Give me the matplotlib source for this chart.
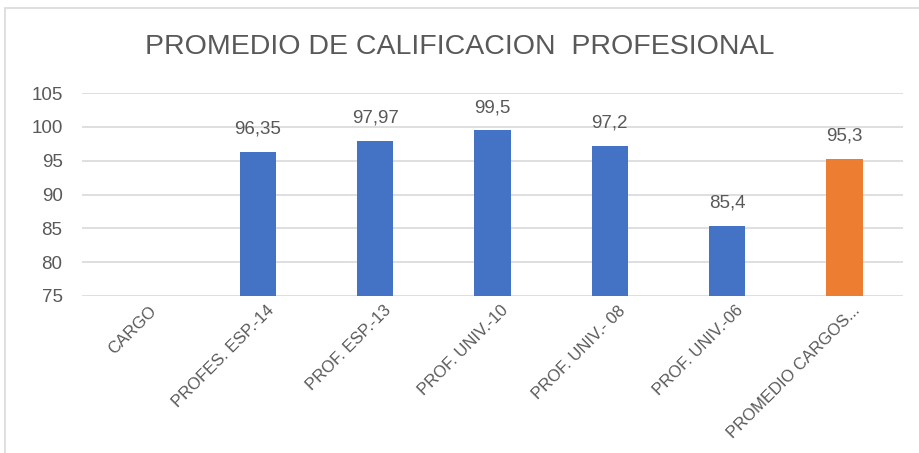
import numpy as np
import matplotlib
matplotlib.use("Agg")
from matplotlib import pyplot as plt
from matplotlib.patches import Rectangle
from matplotlib.transforms import ScaledTranslation

# data
categorias = ["CARGO", "PROFES. ESP.-14", "PROF. ESP.-13", "PROF. UNIV.-10",
              "PROF. UNIV.- 08", "PROF. UNIV.-06", "PROMEDIO CARGOS..."]
valores = [np.nan, 96.35, 97.97, 99.5, 97.2, 85.4, 95.3]
etiquetas = ["", "96,35", "97,97", "99,5", "97,2", "85,4", "95,3"]
colores = ["#4472C4"] * 6 + ["#ED7D31"]
yticks = [75, 80, 85, 90, 95, 100, 105]

plt.rcParams['font.family'] = ['Liberation Sans', 'DejaVu Sans']
gris = "#595959"

fig = plt.figure(figsize=(9.2, 4.53), dpi=100)
fig.patches.append(Rectangle((5/920, -0.1), 1.1, 1 - 8/453 + 0.1, transform=fig.transFigure,
                             fill=False, edgecolor="#d9d9d9", lw=1.2))
ax = fig.add_axes([82/920, 1 - 296/453, (903 - 82)/920, (296 - 93)/453])

x = np.arange(len(categorias))
vals = np.array(valores, dtype=float)
ax.bar(x, np.nan_to_num(vals - 75), bottom=75, width=0.31, color=colores, zorder=3)
for xi, v, t in zip(x, vals, etiquetas):
    if not np.isnan(v):
        ax.annotate(t, (xi, v), xytext=(0, 10), textcoords="offset points",
                    ha="center", va="bottom", fontsize=13.5, color=gris)

ax.set_ylim(75, 105)
ax.set_xlim(-0.5, len(categorias) - 0.5)
ax.set_yticks(yticks)
ax.set_yticklabels([str(t) for t in yticks], fontsize=13.5, color=gris)
ax.set_xticks(x)
ax.set_xticklabels(categorias, rotation=45, ha="right", rotation_mode="anchor",
                   fontsize=12, color=gris)
ax.tick_params(length=0, pad=5)
ax.tick_params(axis="y", pad=14)
shift = ScaledTranslation(8/100, 0, fig.dpi_scale_trans)
for lab in ax.get_xticklabels():
    lab.set_transform(lab.get_transform() + shift)
ax.grid(axis="y", color="#d9d9d9", lw=1.2, zorder=0)
for s in ax.spines.values():
    s.set_visible(False)

fig.text(0.5, 1 - 47/453, "PROMEDIO DE CALIFICACION  PROFESIONAL", ha="center", va="center",
         fontsize=20.5, color=gris)

fig.savefig("out.png", dpi=100)
